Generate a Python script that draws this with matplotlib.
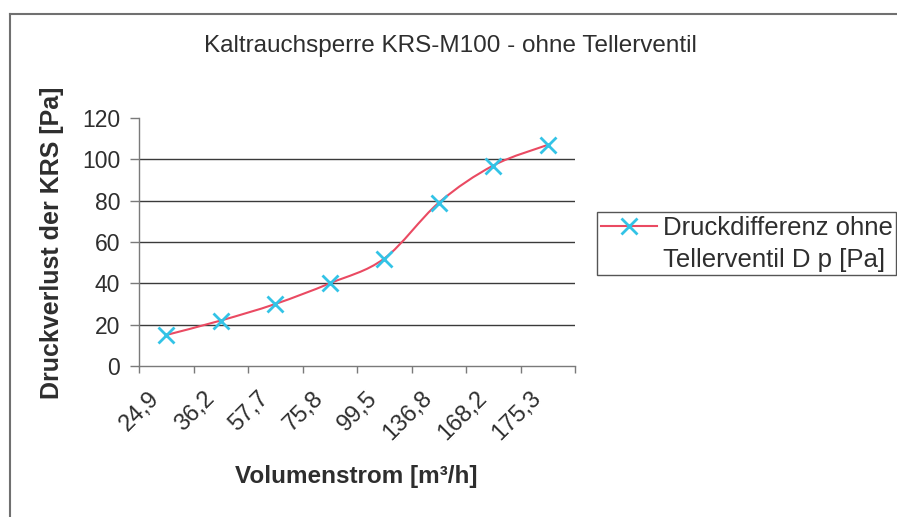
import matplotlib
matplotlib.use('Agg')
import matplotlib.pyplot as plt
from matplotlib.path import Path
from matplotlib.patches import PathPatch
from matplotlib.lines import Line2D
import matplotlib.transforms as mtransforms
import numpy as np

# ---- data ----
categories = ['24,9', '36,2', '57,7', '75,8', '99,5', '136,8', '168,2', '175,3']
pressure = [15, 22, 30, 40, 52, 79, 97, 107]
y_ticks = [0, 20, 40, 60, 80, 100, 120]
title = 'Kaltrauchsperre KRS-M100 - ohne Tellerventil'
x_label = 'Volumenstrom [m³/h]'
y_label = 'Druckverlust der KRS [Pa]'
series_label_lines = ['Druckdifferenz ohne', 'Tellerventil D p [Pa]']

plt.rcParams['font.family'] = ['Liberation Sans', 'DejaVu Sans']
text_color = '#2e2e2e'
line_color = '#ea4a62'
marker_color = '#33c3e6'

W, H = 897, 517
fig = plt.figure(figsize=(W / 100, H / 100), dpi=100)
fig.patch.set_facecolor('white')

ax = fig.add_axes([139 / W, 1 - 366 / H, (575 - 139) / W, (366 - 118) / H])

x = np.arange(len(categories))
y = np.array(pressure, dtype=float)
pts = np.column_stack([x, y])

# smoothed line (Catmull-Rom style Bezier, like Excel's smoothed line)
verts = [pts[0]]
codes = [Path.MOVETO]
n = len(pts)
for i in range(n - 1):
    p0 = pts[i - 1] if i > 0 else pts[i]
    p1 = pts[i]
    p2 = pts[i + 1]
    p3 = pts[i + 2] if i + 2 < n else pts[i + 1]
    c1 = p1 + (p2 - p0) / 6.0
    c2 = p2 - (p3 - p1) / 6.0
    verts += [c1, c2, p2]
    codes += [Path.CURVE4] * 3
ax.add_patch(PathPatch(Path(verts, codes), facecolor='none', edgecolor=line_color,
                       lw=1.5, zorder=3))
ax.plot(x, y, linestyle='none', marker='x', ms=11, mew=2, color=marker_color, zorder=4)

ax.set_xlim(-0.5, len(categories) - 0.5)
ax.set_ylim(y_ticks[0], y_ticks[-1])

# gridlines (not at the top)
for t in y_ticks[1:-1]:
    ax.axhline(t, color='#3a3a3a', lw=1.0, zorder=1)

for s in ['top', 'right']:
    ax.spines[s].set_visible(False)
for s in ['left', 'bottom']:
    ax.spines[s].set_color('#7a7a7a')
    ax.spines[s].set_linewidth(1.0)

ax.set_yticks(y_ticks)
ax.set_yticklabels([str(t) for t in y_ticks])
ax.tick_params(axis='y', direction='out', length=6.5, width=1, color='#7a7a7a',
               pad=7, labelsize=16.5, labelcolor=text_color)

ax.set_xticks(np.arange(-0.5, len(categories), 1.0))
ax.set_xticklabels([])
ax.set_xticks(x, minor=True)
ax.set_xticklabels(categories, minor=True, rotation=45, ha='right', va='center',
                   rotation_mode='anchor')
ax.tick_params(axis='x', which='major', direction='out', length=5, width=1, color='#7a7a7a')
ax.tick_params(axis='x', which='minor', length=0, pad=21, labelsize=17,
               labelcolor=text_color)
shift = mtransforms.ScaledTranslation(-10 / 100, 0, fig.dpi_scale_trans)
for lab in ax.get_xticklabels(minor=True):
    lab.set_transform(lab.get_transform() + shift)

fig.text(450 / W, 1 - 46 / H, title, ha='center', va='center', fontsize=17.5, color=text_color)
fig.text(52 / W, 1 - 243 / H, y_label, ha='center', va='center', rotation=90,
         fontsize=18, fontweight='bold', color=text_color)
fig.text(356 / W, 1 - 477 / H, x_label, ha='center', va='center', fontsize=17.5,
         fontweight='bold', color=text_color)

handle = Line2D([], [], color=line_color, lw=1.5, marker='x', ms=11, mew=2,
                mec=marker_color)
blank = Line2D([], [], linestyle='none', marker=None)
leg = fig.legend(handles=[handle, blank], labels=series_label_lines, loc='upper left',
                 bbox_to_anchor=(597 / W, 1 - 212 / H), bbox_transform=fig.transFigure,
                 fancybox=False, edgecolor='#555555', framealpha=1, fontsize=18.5,
                 handlelength=2.2, borderpad=0.15, borderaxespad=0, handletextpad=0.2,
                 labelspacing=0.3, labelcolor=text_color)
leg.get_frame().set_linewidth(1.0)

# chart border (left and top visible)
fig.add_artist(Line2D([10 / W, 10 / W], [0, 1 - 14 / H], transform=fig.transFigure,
                      color='#707070', lw=1.5))
fig.add_artist(Line2D([10 / W, 1], [1 - 14 / H, 1 - 14 / H], transform=fig.transFigure,
                      color='#707070', lw=1.5))

fig.savefig('out.png', dpi=100)
